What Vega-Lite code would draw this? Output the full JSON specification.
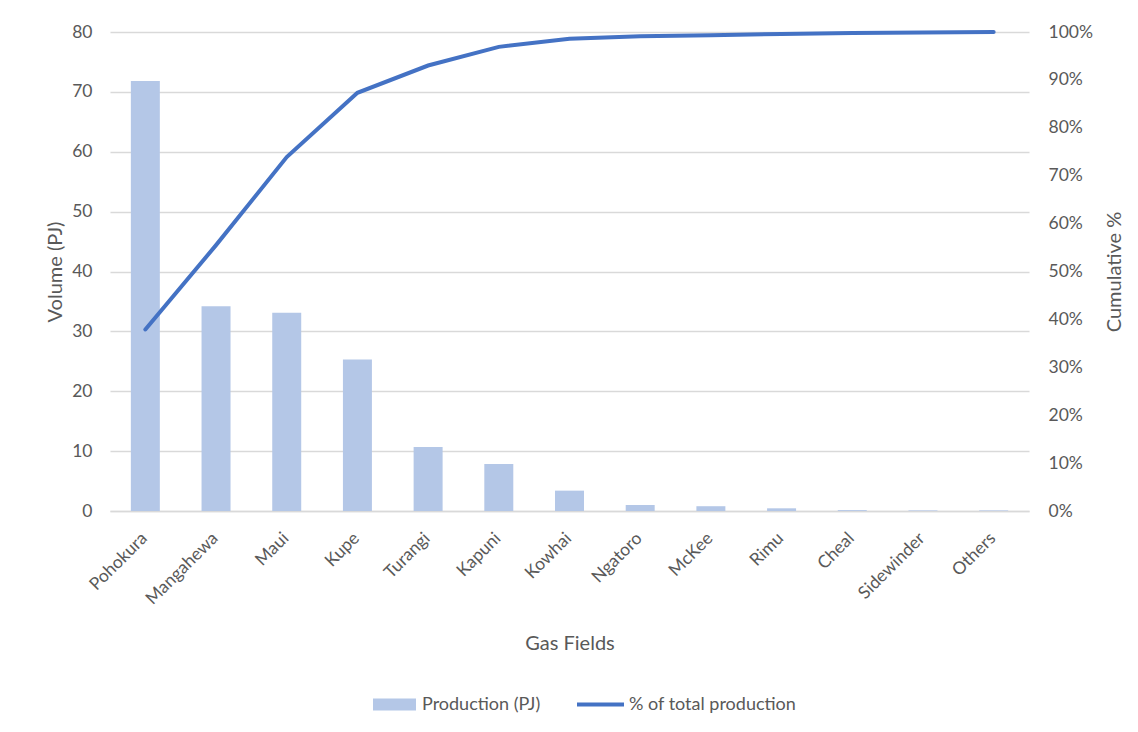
{
  "$schema": "https://vega.github.io/schema/vega-lite/v6.json",
  "width": 919,
  "height": 479,
  "autosize": "none",
  "padding": {"left": 110, "top": 32, "right": 109, "bottom": 221},
  "background": "white",
  "config": {
    "font": "Lato",
    "view": {"stroke": null},
    "axis": {
      "labelFont": "Lato", "titleFont": "Lato",
      "labelColor": "#595959", "titleColor": "#595959",
      "labelFontSize": 17.5, "titleFontSize": 20, "titleFontWeight": "normal",
      "gridColor": "#D9D9D9", "gridWidth": 1.3, "ticks": false, "domain": false,
      "labelOverlap": false
    },
    "legend": {"labelFont": "Lato", "labelColor": "#595959", "labelFontSize": 18, "labelLimit": 400}
  },
  "data": {
    "values": [
      {"field": "Pohokura", "production": 71.8, "cumulative": 0.379},
      {"field": "Mangahewa", "production": 34.2, "cumulative": 0.555},
      {"field": "Maui", "production": 33.1, "cumulative": 0.739},
      {"field": "Kupe", "production": 25.3, "cumulative": 0.873},
      {"field": "Turangi", "production": 10.7, "cumulative": 0.930},
      {"field": "Kapuni", "production": 7.85, "cumulative": 0.969},
      {"field": "Kowhai", "production": 3.4, "cumulative": 0.986},
      {"field": "Ngatoro", "production": 1.0, "cumulative": 0.991},
      {"field": "McKee", "production": 0.8, "cumulative": 0.993},
      {"field": "Rimu", "production": 0.45, "cumulative": 0.996},
      {"field": "Cheal", "production": 0.15, "cumulative": 0.998},
      {"field": "Sidewinder", "production": 0.1, "cumulative": 0.999},
      {"field": "Others", "production": 0.1, "cumulative": 1.0}
    ]
  },
  "encoding": {
    "x": {
      "field": "field", "type": "nominal", "sort": null,
      "scale": {"paddingInner": 0.59, "paddingOuter": 0.295},
      "axis": {
        "title": "Gas Fields", "labelAngle": -45, "labelPadding": 18, "labelOffset": -7,
        "titlePadding": 26, "domain": true, "domainColor": "#D9D9D9", "domainWidth": 1.3,
        "grid": false
      }
    }
  },
  "layer": [
    {
      "mark": {"type": "bar", "color": "#B4C7E7"},
      "encoding": {
        "y": {
          "field": "production", "type": "quantitative",
          "scale": {"domain": [0, 80]},
          "axis": {"title": "Volume (PJ)", "values": [0,10,20,30,40,50,60,70,80], "labelPadding": 18, "titlePadding": 6}
        },
        "fill": {
          "datum": "Production (PJ)",
          "scale": {"range": ["#B4C7E7"]},
          "legend": {
            "title": null, "orient": "none", "legendX": 263, "legendY": 651,
            "symbolType": "M-1,-0.28H1V0.28H-1Z", "symbolSize": 1849,
            "symbolStrokeWidth": 0, "labelOffset": 6
          }
        }
      }
    },
    {
      "mark": {"type": "line", "color": "#4472C4", "strokeWidth": 4, "strokeCap": "round"},
      "encoding": {
        "y": {
          "field": "cumulative", "type": "quantitative",
          "scale": {"domain": [0, 1]},
          "axis": {"title": "Cumulative %", "orient": "right", "format": ".0%", "values": [0,0.1,0.2,0.3,0.4,0.5,0.6,0.7,0.8,0.9,1.0], "grid": false, "labelPadding": 19, "titlePadding": 32, "titleAngle": 270}
        },
        "stroke": {
          "datum": "% of total production",
          "scale": {"range": ["#4472C4"]},
          "legend": {
            "title": null, "orient": "none", "legendX": 465, "legendY": 647,
            "symbolType": "stroke", "symbolSize": 2209, "symbolStrokeWidth": 4,
            "symbolStrokeColor": "#4472C4", "labelOffset": 3
          }
        }
      }
    }
  ],
  "resolve": {"scale": {"y": "independent", "fill": "independent", "stroke": "independent"}}
}
